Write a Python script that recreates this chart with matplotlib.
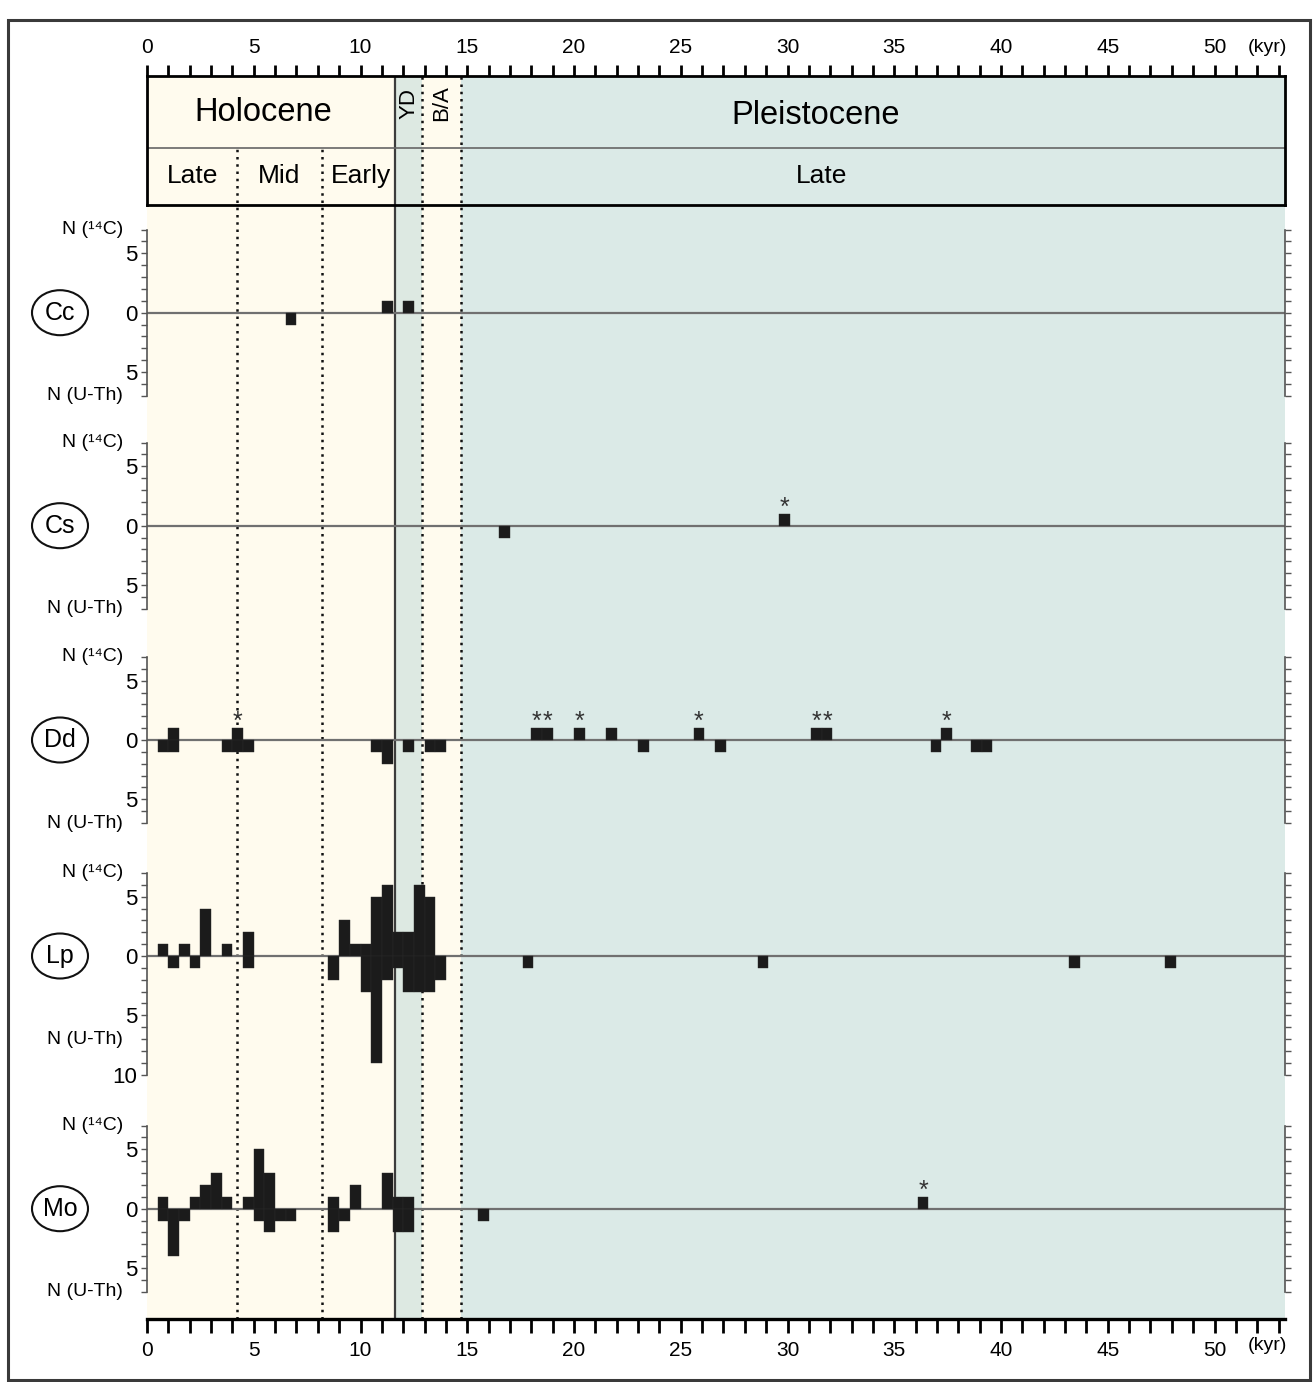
import matplotlib.pyplot as plt
from matplotlib.patches import Ellipse, Rectangle
from matplotlib.ticker import MultipleLocator, FixedLocator
import numpy as np

plt.rcParams['font.family'] = ['Liberation Sans', 'DejaVu Sans']
head_font = ['Liberation Sans', 'DejaVu Sans']

# time axis (kyr) and chronozone boundaries
x_max = 53.3
late_mid = 4.2
mid_early = 8.2
holocene_base = 11.6
yd_base = 12.9
ba_base = 14.7
bin_width = 0.5

taxa = ['Cc', 'Cs', 'Dd', 'Lp', 'Mo']

# left edge of each age bin (kyr) and number of dates in it
cc_c14_age = [11.0, 12.0]
cc_c14_n = [1, 1]
cc_uth_age = [6.5]
cc_uth_n = [1]
cc_starred = []

cs_c14_age = [29.6]
cs_c14_n = [1]
cs_uth_age = [16.5]
cs_uth_n = [1]
cs_starred = [29.6]

dd_c14_age = [1.0, 4.0, 18.0, 18.5, 20.0, 21.5, 25.6, 31.1, 31.6, 37.2]
dd_c14_n = [1, 1, 1, 1, 1, 1, 1, 1, 1, 1]
dd_uth_age = [0.5, 1.0, 3.5, 4.0, 4.5, 10.5, 11.0, 12.0, 13.0, 13.5,
              23.0, 26.6, 36.7, 38.6, 39.1]
dd_uth_n = [1, 1, 1, 1, 1, 1, 2, 1, 1, 1, 1, 1, 1, 1, 1]
dd_starred = [4.0, 18.0, 18.5, 20.0, 25.6, 31.1, 31.6, 37.2]

lp_c14_age = [0.5, 1.5, 2.5, 3.5, 4.5, 9.0, 9.5, 10.0, 10.5, 11.0,
              11.5, 12.0, 12.5, 13.0]
lp_c14_n = [1, 1, 4, 1, 2, 3, 1, 1, 5, 6, 2, 2, 6, 5]
lp_uth_age = [1.0, 2.0, 4.5, 8.5, 10.0, 10.5, 11.0, 11.5, 12.0, 12.5,
              13.0, 13.5, 17.6, 28.6, 43.2, 47.7]
lp_uth_n = [1, 1, 1, 2, 3, 9, 2, 1, 3, 3, 3, 2, 1, 1, 1, 1]
lp_starred = []

mo_c14_age = [0.5, 2.0, 2.5, 3.0, 3.5, 4.5, 5.0, 5.5, 8.5, 9.5,
              11.0, 11.5, 12.0, 36.1]
mo_c14_n = [1, 1, 2, 3, 1, 1, 5, 3, 1, 2, 3, 1, 1, 1]
mo_uth_age = [0.5, 1.0, 1.5, 5.0, 5.5, 6.0, 6.5, 8.5, 9.0, 11.5, 12.0, 15.5]
mo_uth_n = [1, 4, 1, 1, 2, 1, 1, 2, 1, 2, 2, 1]
mo_starred = [36.1]

panels = [
    (cc_c14_age, cc_c14_n, cc_uth_age, cc_uth_n, cc_starred, -7),
    (cs_c14_age, cs_c14_n, cs_uth_age, cs_uth_n, cs_starred, -7),
    (dd_c14_age, dd_c14_n, dd_uth_age, dd_uth_n, dd_starred, -7),
    (lp_c14_age, lp_c14_n, lp_uth_age, lp_uth_n, lp_starred, -10),
    (mo_c14_age, mo_c14_n, mo_uth_age, mo_uth_n, mo_starred, -7),
]

yellow = '#fffbee'
green = '#dde9e2'
teal = '#dbeae7'
bar_col = '#1b1b1b'

W, H = 1315, 1382
left_px, right_px = 147, 1285
top_px, header_px, bottom_px = 76, 205, 1319
zero_px = [312.7, 525.7, 740, 956, 1208.7]
unit_px = 11.87


def frect(x0, y0, x1, y1):
    # pixel box measured from the top-left corner -> figure fraction
    return [x0 / W, 1 - y1 / H, (x1 - x0) / W, (y1 - y0) / H]


fig = plt.figure(figsize=(W / 100, H / 100), dpi=100)

# outer frame
fig.add_artist(Rectangle((8 / W, 1 - 1380 / H), 1302 / W, 1360 / H,
                         transform=fig.transFigure, fill=False,
                         lw=2.2, ec='#3a3a3a'))

# background: chronozone shading, boundaries and the bottom time axis
bg = fig.add_axes(frect(left_px, top_px, right_px, bottom_px))
bg.set_xlim(0, x_max)
bg.set_ylim(0, 1)
bg.axvspan(0, holocene_base, color=yellow, lw=0)
bg.axvspan(holocene_base, yd_base, color=green, lw=0)
bg.axvspan(yd_base, ba_base, color=yellow, lw=0)
bg.axvspan(ba_base, x_max, color=teal, lw=0)
sub_top = (bottom_px - 148) / (bottom_px - top_px)
dots = (0, (1, 1.9))
bg.axvline(holocene_base, color='#3c3c3c', lw=1.6)
for x in (yd_base, ba_base):
    bg.axvline(x, color='#111111', lw=1.8, ls=dots)
for x in (late_mid, mid_early):
    bg.axvline(x, ymax=sub_top, color='#111111', lw=1.8, ls=dots)
for s in ('top', 'left', 'right'):
    bg.spines[s].set_visible(False)
bg.spines['bottom'].set_linewidth(2.4)
bg.set_yticks([])
bg.xaxis.set_minor_locator(MultipleLocator(1))
bg.set_xticks(range(0, 51, 5))
bg.set_xticklabels([str(v) for v in range(0, 51, 5)], family=head_font, fontsize=15)
bg.tick_params(axis='x', which='both', length=10, width=2, direction='out', pad=6)
bg.text(52.5, -0.021, '(kyr)', family=head_font, fontsize=14, ha='center', va='center')

# header with epochs and sub-divisions, plus the top time axis
hdr = fig.add_axes(frect(left_px, top_px, right_px, header_px))
hdr.patch.set_alpha(0)
hdr.set_xlim(0, x_max)
hdr.set_ylim(0, 1)
for s in hdr.spines.values():
    s.set_linewidth(2)
hdr.set_yticks([])
hdr.xaxis.tick_top()
hdr.xaxis.set_minor_locator(MultipleLocator(1))
hdr.set_xticks(range(0, 51, 5))
hdr.set_xticklabels([str(v) for v in range(0, 51, 5)], family=head_font, fontsize=15)
hdr.tick_params(axis='x', which='both', length=8, width=2, direction='out', pad=6)
hdr.axhline((header_px - 148) / (header_px - top_px), color='#666666', lw=1.2)
hdr.text(52.5, 1.22, '(kyr)', family=head_font, fontsize=14, ha='center', va='center')

hdr.text(5.45, 0.72, 'Holocene', family=head_font, fontsize=23.5, ha='center', va='center')
hdr.text(31.3, 0.69, 'Pleistocene', family=head_font, fontsize=23.5, ha='center', va='center')
hdr.text(2.15, 0.225, 'Late', family=head_font, fontsize=19, ha='center', va='center')
hdr.text(6.2, 0.225, 'Mid', family=head_font, fontsize=19, ha='center', va='center')
hdr.text(10.0, 0.225, 'Early', family=head_font, fontsize=19, ha='center', va='center')
hdr.text(31.6, 0.225, 'Late', family=head_font, fontsize=19, ha='center', va='center')
hdr.text(12.25, 0.79, 'YD', family=head_font, fontsize=16, rotation=90, ha='center', va='center')
hdr.text(13.8, 0.79, 'B/A', family=head_font, fontsize=16, rotation=90, ha='center', va='center')

# one histogram panel per taxon: 14C dates up, U-Th dates down
for name, zero, (c14_age, c14_n, uth_age, uth_n, starred, ymin) in zip(taxa, zero_px, panels):
    ax = fig.add_axes(frect(left_px, zero - 7 * unit_px, right_px, zero - ymin * unit_px))
    ax.patch.set_alpha(0)
    ax.set_xlim(0, x_max)
    ax.set_ylim(ymin, 7)
    ax.spines['top'].set_visible(False)
    ax.spines['bottom'].set_visible(False)
    for s in ('left', 'right'):
        ax.spines[s].set_color('#555555')
        ax.spines[s].set_linewidth(1.2)
    ax.set_xticks([])
    major = [ymin, -5, 0, 5] if ymin < -7 else [-5, 0, 5]
    ax.yaxis.set_major_locator(FixedLocator(major))
    ax.yaxis.set_minor_locator(MultipleLocator(1))
    ax.set_yticklabels([str(abs(v)) for v in major])
    ax.tick_params(axis='y', which='both', length=4, width=1, color='#555555',
                   left=True, right=True, labelleft=True, labelright=False,
                   labelsize=16, pad=3)

    ax.axhline(0, color='#707070', lw=1.6, zorder=2)
    ax.bar(c14_age, c14_n, width=bin_width, align='edge', color=bar_col,
           ec='#2a2a2a', lw=0.3, zorder=3)
    ax.bar(uth_age, [-n for n in uth_n], width=bin_width, align='edge',
           color=bar_col, ec='#2a2a2a', lw=0.3, zorder=3)
    for a in starred:
        n = c14_n[c14_age.index(a)]
        ax.text(a + bin_width / 2, n - 0.05, '*', ha='center', va='baseline',
                fontsize=18, color='#333333')

    lab_x = (123 - left_px) / (right_px - left_px)
    ax.text(lab_x, 7, 'N (¹⁴C)', transform=ax.get_yaxis_transform(),
            ha='right', va='center', fontsize=14)
    ax.text(lab_x, -7, 'N (U-Th)', transform=ax.get_yaxis_transform(),
            ha='right', va='center', fontsize=14)

    # taxon label in an ellipse left of the axis
    fig.add_artist(Ellipse((60 / W, 1 - zero / H), 56 / W, 45 / H,
                           transform=fig.transFigure, fill=False,
                           lw=1.5, ec='#111111'))
    fig.text(60 / W, 1 - zero / H, name, ha='center', va='center', fontsize=18)

fig.savefig('out.png', dpi=100)
